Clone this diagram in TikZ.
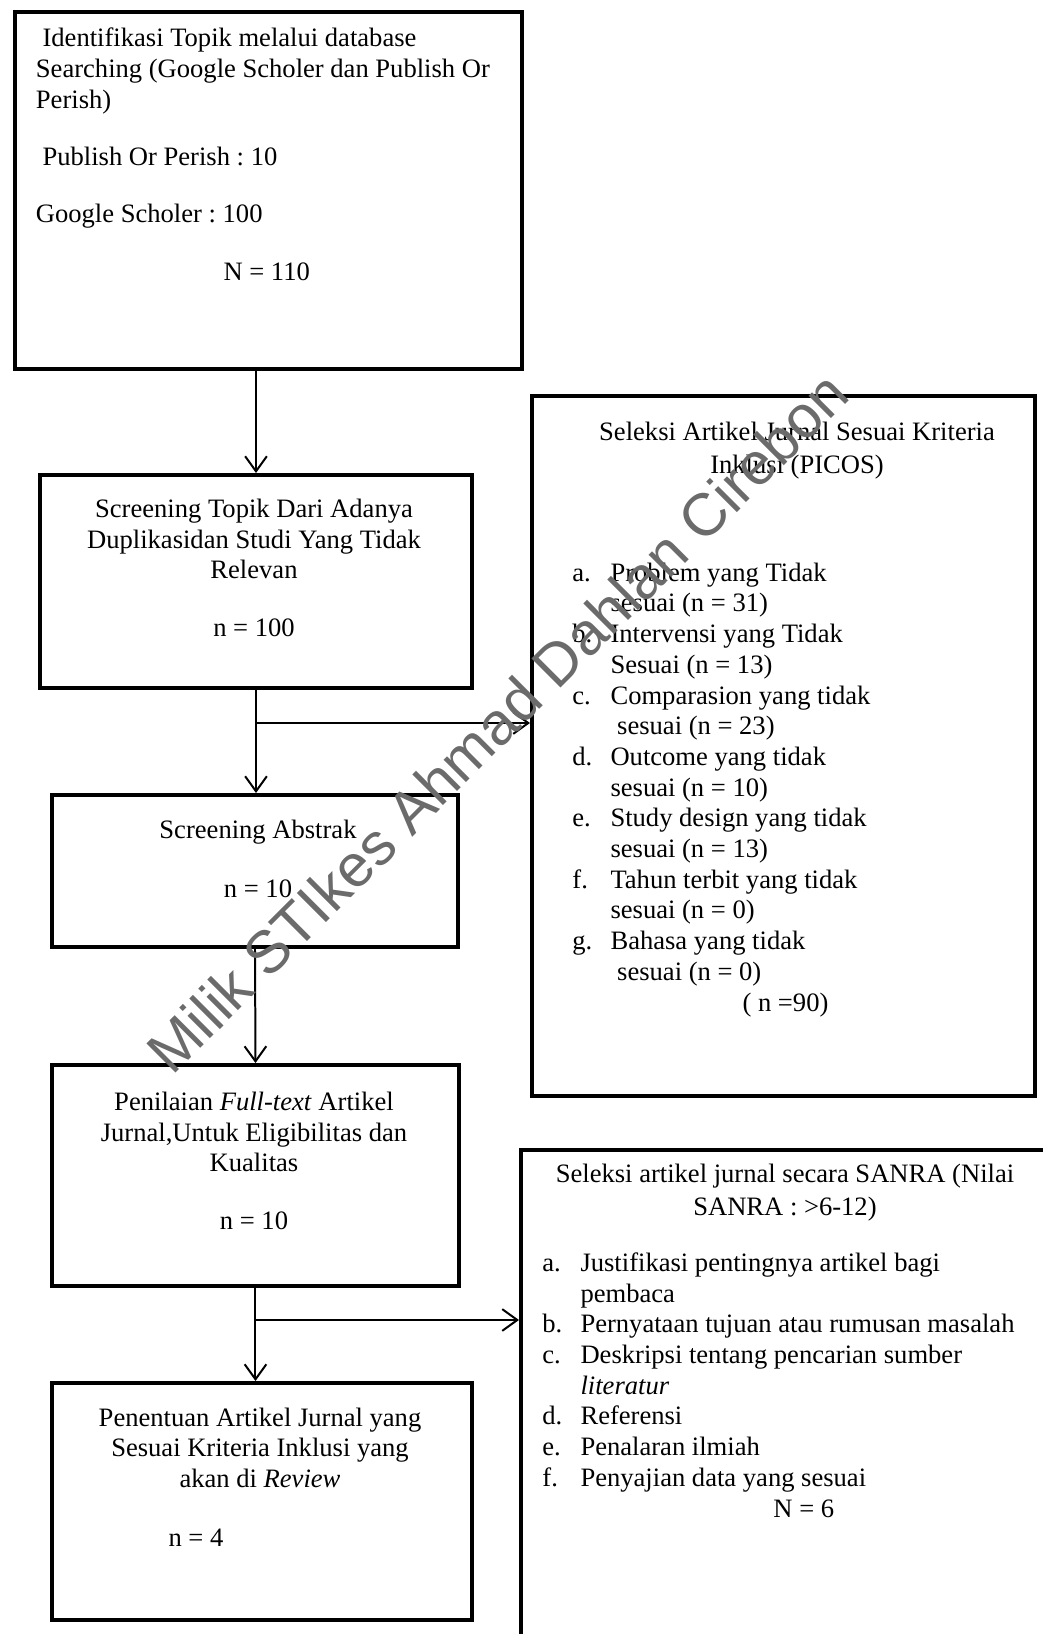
\documentclass[tikz,border=0pt]{standalone}
\usepackage{fontspec}
\setmainfont{Liberation Serif}
\newfontfamily\wmfont{Liberation Sans}
\usetikzlibrary{arrows.meta,positioning,calc}
\frenchspacing

\newcommand{\pitem}[2]{\makebox[17.2pt][l]{#1}#2}
\newcommand{\pcont}[1]{\hspace*{17.2pt}#1}

\begin{document}
\begin{tikzpicture}[x=0.4515pt, y=-0.4515pt,
  font=\fontsize{12}{13.86}\selectfont,
  box/.style 2 args={draw, line width=1.8pt, inner sep=0pt, anchor=north west,
                     minimum width=#1*0.4515pt, minimum height=#2*0.4515pt},
  txt/.style={inner sep=0pt, anchor=base, align=center},
  lst/.style={inner sep=0pt, anchor=base west, align=left},
  wm/.style={inner sep=0pt, text=black!58, font=\wmfont\fontsize{27}{27}\selectfont},
  arr/.style={-{Straight Barb[length=6.8pt,width=9.8pt]}, line width=0.9pt}]
\useasboundingbox (0,0) rectangle (1043,1634);
\clip (0,0) rectangle (1043,1634);
% boxes
\node[box={507}{357}] (b1) at (13,10) {};
\node[box={432}{213}] (b2) at (38,473) {};
\node[box={406}{152}] (b3) at (50,793) {};
\node[box={407}{221}] (b4) at (50,1063) {};
\node[box={420}{237}] (b5) at (50,1381) {};
\node[box={503}{700}] (p1) at (530,394) {};
\node[box={540}{520}] (s1) at (519,1148) {};
% texts (placed by the baseline of their last line)
\node[lst] (t1) at (35.5,280) {\hspace*{3pt}Identifikasi Topik melalui database\\
  Searching (Google Scholer dan Publish Or\\Perish)\\[12pt]
  \hspace*{3pt}Publish Or Perish : 10\\[12pt]
  Google Scholer : 100\\[12pt]
  \hspace*{84.7pt}N = 110};
\node[txt] (t2) at (254,636) {Screening Topik Dari Adanya\\Duplikasidan Studi Yang Tidak\\Relevan\\[12pt]n = 100};
\node[txt] (t3) at (258,897) {Screening Abstrak\\[12.5pt]n = 10};
\node[txt] (t4) at (254,1229) {Penilaian \textit{Full-text} Artikel\\Jurnal,Untuk Eligibilitas dan\\Kualitas\\[12pt]n = 10};
\node[txt] (t5) at (260,1546) {Penentuan Artikel Jurnal yang\\Sesuai Kriteria Inklusi yang\\akan di \textit{Review}\\[12.5pt]n = 4\hspace*{57.8pt}};
\node[txt] (pt) at (797,473) {Seleksi Artikel Jurnal Sesuai Kriteria\\[0.6pt]Inklusi (PICOS)};
\node[lst] (pl) at (572,1011) {\pitem{a.}{Problem yang Tidak}\\\pcont{sesuai (n = 31)}\\
  \pitem{b.}{Intervensi yang Tidak}\\\pcont{Sesuai (n = 13)}\\
  \pitem{c.}{Comparasion yang tidak}\\\pcont{\hspace*{3pt}sesuai (n = 23)}\\
  \pitem{d.}{Outcome yang tidak}\\\pcont{sesuai (n = 10)}\\
  \pitem{e.}{Study design yang tidak}\\\pcont{sesuai (n = 13)}\\
  \pitem{f.}{Tahun terbit yang tidak}\\\pcont{sesuai (n = 0)}\\
  \pitem{g.}{Bahasa yang tidak}\\\pcont{\hspace*{3pt}sesuai (n = 0)}\\
  \hspace*{76.8pt}( n =90)};
\node[txt] (st) at (785,1215) {Seleksi artikel jurnal secara SANRA (Nilai\\[0.6pt]SANRA : >6-12)};
\node[lst] (sl) at (542,1517) {\pitem{a.}{Justifikasi pentingnya artikel bagi}\\\pcont{pembaca}\\
  \pitem{b.}{Pernyataan tujuan atau rumusan masalah}\\
  \pitem{c.}{Deskripsi tentang pencarian sumber}\\\pcont{\textit{literatur}}\\
  \pitem{d.}{Referensi}\\
  \pitem{e.}{Penalaran ilmiah}\\
  \pitem{f.}{Penyajian data yang sesuai}\\
  \hspace*{104.3pt}N = 6};
% connectors
\coordinate (j1) at ($(b2.south)+(0,33)$);
\coordinate (j2) at ($(b4.south)+(0,32)$);
\draw[arr] (b1.south -| b2.north) -- (b2.north);
\draw[arr] (b2.south) -- (b2.south |- b3.north);
\draw[arr] (j1) -- (j1 -| p1.west);
\draw[arr] (b3.south) -- (b4.north);
\draw[arr] (b4.south) -- (b4.south |- b5.north);
\draw[arr] (j2) -- (j2 -| s1.west);
% watermark
\node[wm, rotate=45] (wm) at (497,722) {Milik STIkes Ahmad Dahlan Cirebon};
\end{tikzpicture}
\end{document}
